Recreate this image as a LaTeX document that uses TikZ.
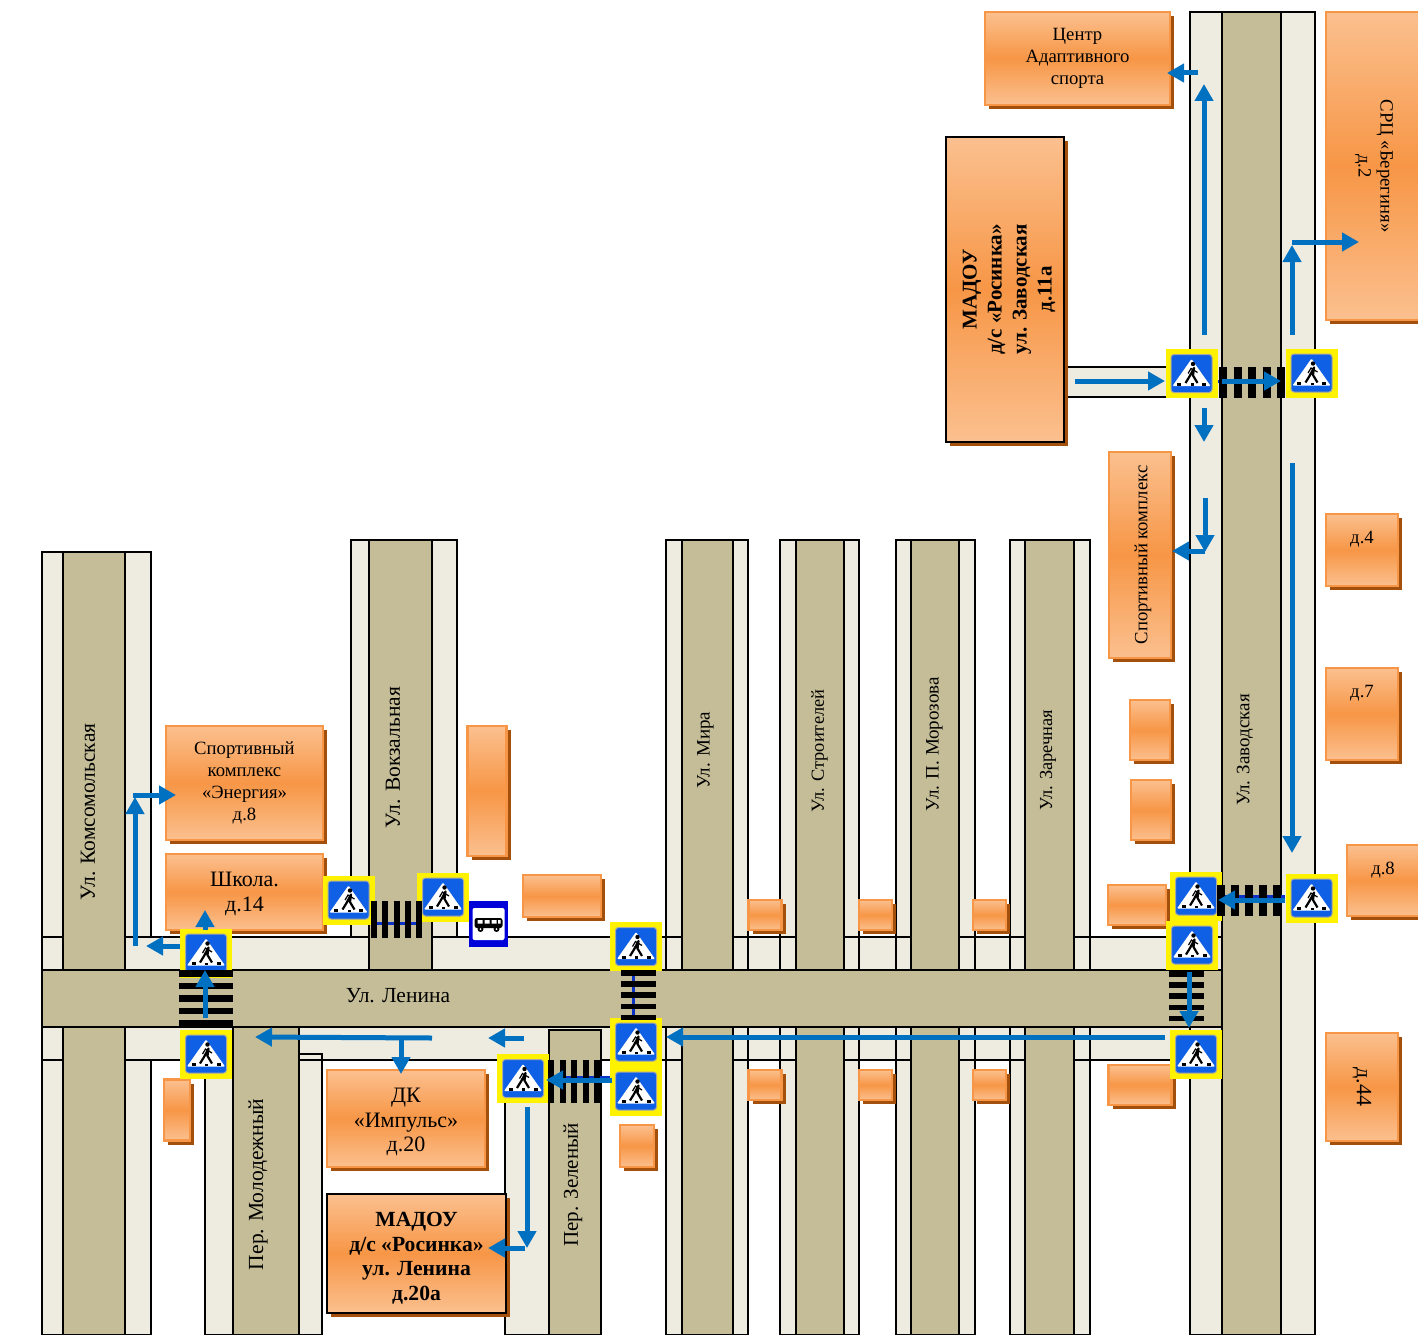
\documentclass[tikz,border=0pt]{standalone}
\usepackage{fontspec}
\setmainfont{Liberation Serif}
\usetikzlibrary{shadows, positioning, arrows.meta}
\definecolor{my_tan}{RGB}{196, 189, 151}
\definecolor{my_walk}{RGB}{238, 236, 225}
\definecolor{my_orange}{RGB}{247, 150, 70}
\definecolor{my_light}{RGB}{251, 192, 143}
\definecolor{my_brown}{RGB}{163, 80, 12}
\definecolor{my_route}{RGB}{0, 112, 192}
\definecolor{my_link}{RGB}{10, 50, 200}
\definecolor{my_sign}{RGB}{16, 96, 230}
\newcommand{\turned}[2]{\rotatebox{#1}{\begin{tabular}{@{}c@{}}#2\end{tabular}}}
\newcommand{\walker}{%
  \begin{scope}[shift={(path picture bounding box.center)}]
    \draw[fill=my_sign, draw=gray!70, line width=1pt, rounded corners=3pt] (-20.5,-19) rectangle (20.5,19);
    \fill[white, rounded corners=1pt] (0,-14.5) -- (19,12.5) -- (-19,12.5) -- cycle;
    \fill[black] (1.5,-9.5) circle (2.2);
    \draw[black, line width=2.2pt, line join=round] (-6,9.5) -- (-2,3) -- (2.5,-5.5) -- (1.5,2) -- (6,9.5);
    \draw[black, line width=1.2pt] (-3.5,0) -- (-0.5,-5) -- (6,-1);
    \foreach \px in {-12.5,12.5} \fill[black] (\px-2,9) rectangle (\px+2,12);
    \fill[black] (-1,9.5) rectangle (2,12);
  \end{scope}}
\tikzset {
  walkway/.style = {fill=my_walk},
  walkedge/.style = {draw=black, line width=1.8pt},
  road/.style = {draw=black, line width=1.8pt, fill=my_tan},
  building/.style = {rectangle, draw=my_orange, line width=2.6pt, inner sep=0pt, outer sep=0pt, top color=my_light, bottom color=my_light, middle color=my_orange,
    drop shadow={opacity=1, fill=my_brown, shadow xshift=4pt, shadow yshift=-4pt}, font=\fontsize{18.7}{22}\selectfont, align=center},
  strong/.style = {building, draw=black, font=\fontsize{21.6}{24.5}\selectfont\bfseries},
  big/.style = {building, font=\fontsize{22}{24.5}\selectfont},
  street/.style = {font=\fontsize{21.5}{24}\selectfont, inner sep=0pt, rotate=90},
  lane/.style = {street, font=\fontsize{19}{22}\selectfont},
  house/.style = {font=\fontsize{18.7}{22}\selectfont, inner sep=0pt},
  crossing/.style = {rectangle, fill=yellow, minimum width=52pt, minimum height=49pt, inner sep=0pt, outer sep=0pt, path picture={\walker}},
  zebra/.style 2 args = {draw=black, line width=#1, dash pattern=#2},
  link/.style = {draw=my_link, line width=3pt},
  route/.style = {draw=my_route, line width=5pt, -{Triangle[length=17pt,width=18pt]}},
}

\begin{document}
\begin{tikzpicture}[x=1pt, y=-1pt]
    \clip (0,0) rectangle (1418,1335);
    \fill[white] (0,0) rectangle (1418,1335);

    % sidewalks
    \newcommand{\walklist}{42/552/151/937, 42/1060/151/1335, 351/540/457/937, 666/540/748/1335, 780/540/859/1335,
      896/540/975/1335, 1010/540/1090/1335, 1190/12/1315/1335, 205/1054/322/1335, 505/1060/549/1335, 42/937/1222/1060, 1065/367/1190/397}
    \foreach \xa/\ya/\xb/\yb in \walklist { \fill[walkway] (\xa,\ya) rectangle (\xb,\yb); }
    \foreach \xa/\ya/\xb/\yb in \walklist { \draw[walkedge] (\xa,\ya) rectangle (\xb,\yb); }

    % carriageways
    \foreach \xa/\ya/\xb/\yb in {63/552/125/1335, 369/540/432/970, 682/540/733/1335, 796/540/844/1335, 911/540/959/1335,
      1025/540/1074/1335, 1222/12/1281/1335, 233/1027/299/1335, 549/1030/601/1335, 42/970/1222/1027} {
      \draw[road] (\xa,\ya) rectangle (\xb,\yb);
    }

    \node[street] (komsomol) at (88,812) {Ул. Комсомольская};
    \node[street] (vokzal) at (393,757.5) {Ул. Вокзальная};
    \node[lane] (mira) at (705.5,750) {Ул. Мира};
    \node[lane, font=\fontsize{18.4}{22}\selectfont] (stroit) at (819.5,751) {Ул. Строителей};
    \node[lane] (morozov) at (934.5,744) {Ул. П. Морозова};
    \node[lane, font=\fontsize{18.4}{22}\selectfont] (zarech) at (1048,760) {Ул. Заречная};
    \node[lane] (zavod) at (1245,750) {Ул. Заводская};
    \node[street] (molod) at (258,1184.5) {Пер. Молодежный};
    \node[street, font=\fontsize{21}{24}\selectfont] (zelen) at (573,1185) {Пер. Зеленый};
    \node[street, rotate=-90] (lenin) at (398,995.5) {Ул. Ленина};

    % blank houses
    \foreach \name/\x/\y/\w/\h in {h1/1150/730/40/60, h2/1151/810/40/60, h3/1137/905/58/40, h4/1140/1085/63/40,
      h5/765/915/33/30, h6/875.5/915/33/30, h7/989.5/915/33/30, h8/765/1085/33/30, h9/875.5/1085/33/30, h10/989.5/1085/33/30,
      h11/487/791/39/130, h12/562/896/78/42, h13/637/1146/34/42, h14/177/1110/26/61} {
      \node[building, minimum width=\w pt, minimum height=\h pt] (\name) at (\x,\y) {};
    }

    \node[building, minimum width=185pt, minimum height=93pt] (centr) at (1077.5,58.5) {Центр\\Адаптивного\\спорта};
    \node[building, minimum width=100pt, minimum height=308pt] (bereg) at (1376,166) {\turned{-90}{\rule{0pt}{19.5pt}СРЦ «Берегиня»\\д.2}};
    \node[strong, font=\fontsize{21}{25}\selectfont\bfseries, minimum width=118pt, minimum height=305pt] (rosinkaz) at (1005,289.5) {\turned{90}{\rule{0pt}{25.5pt}МАДОУ\\д/с «Росинка»\\ул. Заводская\\д.11а}};
    \node[building, minimum width=62pt, minimum height=206pt] (sport) at (1140,555) {\turned{90}{\rule{0pt}{21.5pt}Спортивный комплекс}};
    \node[building, minimum width=72pt, minimum height=72pt] (d4) at (1362,550) {};
    \node[house, below=17pt of d4.north] (d4text) {д.4};
    \node[building, minimum width=72pt, minimum height=92pt] (d7) at (1362,714) {};
    \node[house, below=17pt of d7.north] (d7text) {д.7};
    \node[building, minimum width=72pt, minimum height=71pt] (d8) at (1383,880.5) {};
    \node[house, below=17pt of d8.north] (d8text) {д.8};
    \node[building, font=\fontsize{22}{26}\selectfont, minimum width=72pt, minimum height=108pt] (d44) at (1362,1087) {\turned{-90}{д.44}};
    \node[building, minimum width=157pt, minimum height=114pt] (energia) at (244.5,783) {Спортивный\\комплекс\\«Энергия»\\д.8};
    \node[big, minimum width=157pt, minimum height=76pt] (school) at (244.5,892) {\rule{0pt}{18pt}Школа.\\д.14};
    \node[big, minimum width=158pt, minimum height=97pt] (impuls) at (406,1118.5) {\rule{0pt}{22pt}ДК\\«Импульс»\\д.20};
    \node[strong, minimum width=179pt, minimum height=119pt] (rosinkal) at (416.5,1253.5) {\rule{0pt}{24pt}МАДОУ\\д/с «Росинка»\\ул. Ленина\\д.20а};

    % links under the crossings
    \draw[link] (1218,381) -- (1285,381);
    \draw[link] (1223,896) -- (1285,896);
    \draw[link] (371,923) -- (417,923);
    \draw[link] (633,971) -- (633,1018);
    \draw[link] (549,1077) -- (610,1077);

    \foreach \name/\x/\y in {crossA/1191.5/373.5, crossB/1311.5/373, crossC/1196/896, crossD/1311.5/898, crossE/1192/945, crossF/1196/1054,
      crossG/636/946.5, crossH/636/1042, crossJ/523/1078.5, crossK/206/953, crossL/206/1054, crossM/348.5/900, crossN/443/897} {
      \node[crossing] (\name) at (\x,\y) {};
    }
    \node[crossing, below=0pt of crossH] (crossI) {};

    \node[rectangle, fill=blue!85!black, minimum width=39pt, minimum height=46pt, inner sep=0pt, path picture={
      \begin{scope}[shift={(path picture bounding box.center)}]
        \fill[white, rounded corners=2pt] (-16,-16) rectangle (16,16);
        \fill[black, rounded corners=2.5pt] (-14,-6) rectangle (14,4);
        \fill[white] (-11,-4) rectangle (-6,-0.5) (-4,-4) rectangle (1,-0.5) (3,-4) rectangle (8,-0.5) (9.5,-4) rectangle (12,-0.5);
        \fill[black] (-8,5) circle (3) (8,5) circle (3);
        \fill[white] (-8,5) circle (1) (8,5) circle (1);
      \end{scope}}] (bus) at (488.5,924) {};

    % zebra stripes
    \draw[zebra={31pt}{on 8pt off 6.5pt}] (1219,382.5) -- (1286,382.5);
    \draw[zebra={31pt}{on 8pt off 6pt}] (1217,900.5) -- (1281,900.5);
    \draw[zebra={35pt}{on 5.5pt off 5.7pt}] (1186.5,971) -- (1186.5,1021);
    \draw[zebra={35pt}{on 5.5pt off 5.7pt}] (638.5,970) -- (638.5,1021);
    \draw[zebra={54pt}{on 6.5pt off 6pt}] (206,970) -- (206,1027);
    \draw[zebra={37pt}{on 6pt off 5.25pt}] (371,919.5) -- (422,919.5);
    \draw[zebra={43pt}{on 6pt off 5.5pt}] (548,1081.5) -- (600,1081.5);

    % free ends of the routes
    \foreach \name/\x/\y in {upS/1204/335, upN/1204/84, ctS/1198/73, ctE/1167/73, berS/1292/335, berN/1292/245, berT/1292/242, berE/1359/242,
      spurW/1075/381, spurE/1165/381, zebS/1222/381, zebE/1281/381, zavS/1204/408, zavE/1204/442, sptS/1205/498, sptN/1205/552, sptT/1205/551, sptE/1172/551,
      longS/1292/463, longE/1292/853, lowS/1285/900, lowE/1218/900, lenS/1189/972, lenE/1189/1028, walkS/1165/1037, walkE/666/1037,
      zelS/612/1080, zelE/546/1080, shS/524/1038, shE/488/1038, dkS/432/1038, dkE/255/1037, dkT/401/1038, dkB/401/1074,
      ptS/527/1107, ptE/527/1248, rosS/525/1248, rosE/488/1248, crS/205/1018, crE/205/970, scS/205/930, scE/205/910,
      tuS/180/946, tuE/146/946, enS/135/946, enN/135/797, enT/133/795, enE/176/795} {
      \coordinate (\name) at (\x,\y);
    }

    \foreach \from/\to in {upS/upN, ctS/ctE, berS/berN, berT/berE, spurW/spurE, zebS/zebE, zavS/zavE, sptS/sptN, sptT/sptE, longS/longE, lowS/lowE, lenS/lenE, walkS/walkE,
      zelS/zelE, shS/shE, dkS/dkE, dkT/dkB, ptS/ptE, rosS/rosE, crS/crE, scS/scE, tuS/tuE, enS/enN, enT/enE} {
      \draw[route] (\from) -- (\to);
    }

\end{tikzpicture}
\end{document}
